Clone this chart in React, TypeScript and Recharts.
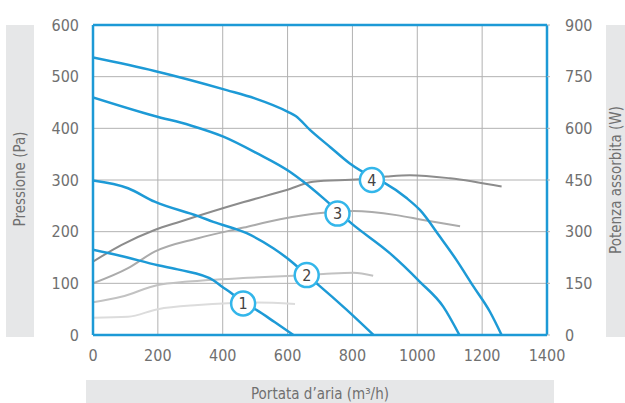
import { ComposedChart, Line, XAxis, YAxis, CartesianGrid, ReferenceLine, ReferenceDot } from 'recharts'

// portata (m3/h) -> pressione (Pa)
const pressure1 = [
  { q: 0, v: 165 }, { q: 87, v: 153 }, { q: 200, v: 135 }, { q: 268, v: 126 }, { q: 371, v: 106 },
  { q: 397, v: 94 }, { q: 427, v: 81 }, { q: 463, v: 62 }, { q: 505, v: 48 }, { q: 560, v: 25 }, { q: 618, v: 0 },
]
const pressure2 = [
  { q: 0, v: 299 }, { q: 108, v: 284 }, { q: 190, v: 258 }, { q: 324, v: 230 }, { q: 371, v: 219 },
  { q: 474, v: 197 }, { q: 556, v: 168 }, { q: 618, v: 139 }, { q: 659, v: 116 }, { q: 695, v: 97 },
  { q: 780, v: 50 }, { q: 865, v: 0 },
]
const pressure3 = [
  { q: 0, v: 460 }, { q: 190, v: 424 }, { q: 299, v: 406 }, { q: 402, v: 384 }, { q: 505, v: 352 },
  { q: 607, v: 316 }, { q: 648, v: 297 }, { q: 710, v: 265 }, { q: 797, v: 216 }, { q: 916, v: 158 },
  { q: 1008, v: 103 }, { q: 1080, v: 55 }, { q: 1130, v: 0 },
]
const pressure4 = [
  { q: 0, v: 537 }, { q: 190, v: 511 }, { q: 412, v: 474 }, { q: 499, v: 458 }, { q: 601, v: 432 },
  { q: 625, v: 424 }, { q: 669, v: 397 }, { q: 731, v: 364 }, { q: 792, v: 332 }, { q: 860, v: 306 },
  { q: 900, v: 294 }, { q: 967, v: 265 }, { q: 1008, v: 242 }, { q: 1070, v: 190 }, { q: 1121, v: 145 },
  { q: 1173, v: 94 }, { q: 1224, v: 45 }, { q: 1260, v: 0 },
]

// portata (m3/h) -> potenza assorbita (W)
const power1 = [
  { q: 0, v: 50 }, { q: 108, v: 53 }, { q: 200, v: 75 }, { q: 324, v: 87 }, { q: 416, v: 92 },
  { q: 505, v: 94 }, { q: 623, v: 90 },
]
const power2 = [
  { q: 0, v: 95 }, { q: 87, v: 111 }, { q: 200, v: 145 }, { q: 293, v: 155 }, { q: 478, v: 166 },
  { q: 618, v: 172 }, { q: 710, v: 177 }, { q: 803, v: 181 }, { q: 864, v: 172 },
]
const power3 = [
  { q: 0, v: 150 }, { q: 108, v: 194 }, { q: 190, v: 242 }, { q: 324, v: 281 }, { q: 465, v: 312 },
  { q: 577, v: 336 }, { q: 710, v: 355 }, { q: 803, v: 360 }, { q: 936, v: 348 }, { q: 1018, v: 334 },
  { q: 1132, v: 316 },
]
const power4 = [
  { q: 0, v: 213 }, { q: 87, v: 261 }, { q: 190, v: 305 }, { q: 268, v: 329 }, { q: 465, v: 386 },
  { q: 597, v: 421 }, { q: 679, v: 445 }, { q: 823, v: 452 }, { q: 906, v: 460 }, { q: 977, v: 464 },
  { q: 1101, v: 455 }, { q: 1260, v: 431 },
]

// curve number badges (q, pressione)
const badges = [
  { n: '1', q: 463, p: 61 },
  { n: '2', q: 659, p: 116 },
  { n: '3', q: 754, p: 235 },
  { n: '4', q: 860, p: 300 },
]

const xTicks = [0, 200, 400, 600, 800, 1000, 1200, 1400]
const pTicks = [0, 100, 200, 300, 400, 500, 600]
const wTicks = [0, 150, 300, 450, 600, 750, 900]

const BLUE = '#1d9ad6'
const BADGE = '#33b6ea'
const GRID = '#b2b2b2'
const TEXT = '#707070'
const BAND = '#e6e7e8'
const FONT = '"Liberation Sans Narrow", "DejaVu Sans Condensed", Roboto, sans-serif'

const pressures = [pressure1, pressure2, pressure3, pressure4]
const powers = [
  { data: power1, color: '#dcdcdc' },
  { data: power2, color: '#c2c2c2' },
  { data: power3, color: '#ababab' },
  { data: power4, color: '#8c8c8c' },
]

const tickStyle = { fill: TEXT, fontSize: 16 }

export default function App() {
  return (
    <div style={{ position: 'absolute', left: 0, top: 0, width: 625, height: 403, overflow: 'hidden', fontFamily: FONT, background: '#fff' }}>
      {/* label bands */}
      <div style={{ position: 'absolute', left: 6, top: 25, width: 28, height: 312, background: BAND }} />
      <div style={{ position: 'absolute', left: 606, top: 25, width: 30, height: 312, background: BAND }} />
      <div style={{ position: 'absolute', left: 86, top: 380, width: 468, height: 30, background: BAND }} />

      <div style={{ position: 'absolute', left: 0, top: 0 }}>
        <ComposedChart width={625} height={403} margin={{ top: 25, right: 28, bottom: 38, left: 43 }}>
          <CartesianGrid yAxisId="p" stroke={GRID} strokeWidth={1} />
          <XAxis
            dataKey="q"
            type="number"
            domain={[0, 1400]}
            ticks={xTicks}
            allowDataOverflow
            height={30}
            axisLine={{ stroke: BLUE, strokeWidth: 2.5 }}
            tickLine={false}
            tickSize={0}
            tickMargin={15}
            tick={tickStyle}
          />
          <YAxis
            yAxisId="p"
            domain={[0, 600]}
            ticks={pTicks}
            width={50}
            axisLine={{ stroke: BLUE, strokeWidth: 2.5 }}
            tickLine={false}
            tickSize={0}
            tickMargin={14}
            tick={tickStyle}
          />
          <YAxis
            yAxisId="w"
            orientation="right"
            domain={[0, 900]}
            ticks={wTicks}
            width={50}
            axisLine={{ stroke: BLUE, strokeWidth: 2.5 }}
            tickLine={{ stroke: GRID }}
            tickSize={3}
            tickMargin={15}
            tick={tickStyle}
          />
          <ReferenceLine yAxisId="p" y={600} stroke={BLUE} strokeWidth={2.5} />

          {powers.map((s, i) => (
            <Line
              key={'w' + i}
              yAxisId="w"
              data={s.data}
              dataKey="v"
              type="monotone"
              stroke={s.color}
              strokeWidth={2}
              dot={false}
              activeDot={false}
              isAnimationActive={false}
            />
          ))}
          {pressures.map((d, i) => (
            <Line
              key={'p' + i}
              yAxisId="p"
              data={d}
              dataKey="v"
              type="monotone"
              stroke={BLUE}
              strokeWidth={2.5}
              dot={false}
              activeDot={false}
              isAnimationActive={false}
            />
          ))}

          {badges.map((b) => (
            <ReferenceDot
              key={b.n}
              yAxisId="p"
              x={b.q}
              y={b.p}
              r={12}
              fill="#fff"
              stroke={BADGE}
              strokeWidth={2.5}
              label={{ value: b.n, position: 'center', fill: '#444', fontSize: 16 }}
            />
          ))}
        </ComposedChart>
      </div>

      {/* axis titles */}
      <div style={{ position: 'absolute', left: 20, top: 179, transform: 'translate(-50%, -50%) rotate(-90deg)', whiteSpace: 'nowrap', color: TEXT, fontSize: 15, lineHeight: '15px' }}>
        Pressione (Pa)
      </div>
      <div style={{ position: 'absolute', left: 616, top: 180, transform: 'translate(-50%, -50%) rotate(-90deg)', whiteSpace: 'nowrap', color: TEXT, fontSize: 15, lineHeight: '15px' }}>
        Potenza assorbita (W)
      </div>
      <div style={{ position: 'absolute', left: 320, top: 387, transform: 'translateX(-50%)', whiteSpace: 'nowrap', color: TEXT, fontSize: 15, lineHeight: '15px' }}>
        Portata d’aria (m³/h)
      </div>
    </div>
  )
}
